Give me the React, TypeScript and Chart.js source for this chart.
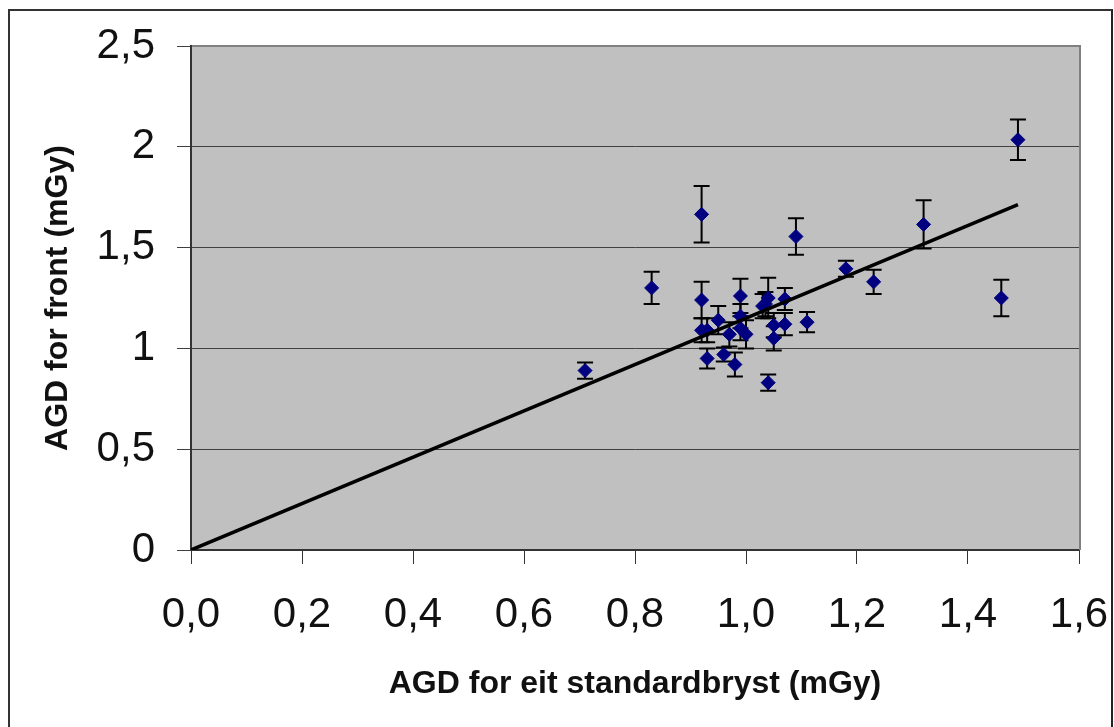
import { useEffect, useRef } from "react";
import { Chart, registerables } from "chart.js";

Chart.register(...registerables);

// Measurements: AGD for standard breast (x) vs AGD for front (y), mGy
const xValues = [
  0.71, 0.83, 0.92, 0.92, 0.92, 0.93, 0.93, 0.95, 0.96, 0.97,
  0.98, 0.99, 0.99, 0.99, 1.0, 1.03, 1.035, 1.04, 1.04, 1.05,
  1.05, 1.07, 1.07, 1.09, 1.11, 1.18, 1.23, 1.32, 1.46, 1.49,
];
const yValues = [
  0.89, 1.3, 1.665, 1.24, 1.09, 1.09, 0.95, 1.14, 0.97, 1.07,
  0.92, 1.26, 1.16, 1.1, 1.07, 1.21, 1.22, 1.25, 0.83, 1.115,
  1.05, 1.245, 1.12, 1.555, 1.13, 1.395, 1.33, 1.615, 1.25, 2.035,
];
const yErrors = [
  0.04, 0.08, 0.14, 0.09, 0.06, 0.06, 0.05, 0.07, 0.035, 0.06,
  0.06, 0.085, 0.06, 0.06, 0.07, 0.06, 0.06, 0.1, 0.04, 0.06,
  0.06, 0.055, 0.055, 0.09, 0.05, 0.04, 0.06, 0.12, 0.09, 0.1,
];
// Linear trend through the origin
const trendSlope = 1.15;

const xTickLabels = ["0,0", "0,2", "0,4", "0,6", "0,8", "1,0", "1,2", "1,4", "1,6"];
const yTickLabels = ["0", "0,5", "1", "1,5", "2", "2,5"];

const xTitle = "AGD for eit standardbryst (mGy)";
const yTitle = "AGD for front (mGy)";

const FONT = "'Liberation Sans', Arial, Helvetica, sans-serif";

const plotBackground = {
  id: "plotBackground",
  beforeDraw(chart: any) {
    const { ctx, chartArea } = chart;
    ctx.save();
    ctx.fillStyle = "#c0c0c0";
    ctx.fillRect(chartArea.left, chartArea.top, chartArea.right - chartArea.left, chartArea.bottom - chartArea.top);
    ctx.restore();
  },
  afterDraw(chart: any) {
    const { ctx, chartArea } = chart;
    ctx.save();
    ctx.strokeStyle = "#808080";
    ctx.lineWidth = 2;
    ctx.beginPath();
    ctx.moveTo(chartArea.left + 1, chartArea.top);
    ctx.lineTo(chartArea.right + 1, chartArea.top);
    ctx.lineTo(chartArea.right + 1, chartArea.bottom);
    ctx.stroke();
    ctx.restore();
  },
};

const errorBars = {
  id: "errorBars",
  beforeDatasetsDraw(chart: any) {
    const { ctx } = chart;
    const xs = chart.scales.x;
    const ys = chart.scales.y;
    ctx.save();
    ctx.strokeStyle = "#000000";
    ctx.lineWidth = 2;
    const cap = 8;
    xValues.forEach((xv, i) => {
      const px = xs.getPixelForValue(xv);
      const top = ys.getPixelForValue(yValues[i] + yErrors[i]);
      const bot = ys.getPixelForValue(yValues[i] - yErrors[i]);
      ctx.beginPath();
      ctx.moveTo(px, top);
      ctx.lineTo(px, bot);
      ctx.moveTo(px - cap, top);
      ctx.lineTo(px + cap, top);
      ctx.moveTo(px - cap, bot);
      ctx.lineTo(px + cap, bot);
      ctx.stroke();
    });
    ctx.restore();
  },
};

export default function App() {
  const canvasRef = useRef<HTMLCanvasElement | null>(null);

  useEffect(() => {
    if (!canvasRef.current) return;
    const points = xValues.map((x, i) => ({ x, y: yValues[i] }));
    const xMax = Math.max(...xValues);
    const trend = [
      { x: 0, y: 0 },
      { x: xMax, y: xMax * trendSlope },
    ];
    const chart = new Chart(canvasRef.current, {
      type: "scatter",
      data: {
        datasets: [
          {
            label: "trend",
            data: trend,
            showLine: true,
            borderColor: "#000000",
            borderWidth: 3.5,
            pointRadius: 0,
            fill: false,
          } as any,
          {
            label: "AGD",
            data: points,
            pointStyle: "rectRot",
            pointRadius: 7,
            pointBackgroundColor: "#000080",
            pointBorderColor: "#000080",
            pointBorderWidth: 1,
            showLine: false,
          } as any,
        ],
      },
      options: {
        responsive: false,
        animation: false,
        devicePixelRatio: 1,
        layout: { padding: { top: 46, right: 35, left: 0, bottom: 0 } },
        plugins: {
          legend: { display: false },
          tooltip: { enabled: false },
        },
        scales: {
          x: {
            type: "linear",
            min: 0,
            max: 1.6,
            afterFit(scale: any) {
              scale.height = 177;
              scale.paddingLeft = 0;
              scale.paddingRight = 0;
            },
            ticks: {
              stepSize: 0.2,
              padding: 26,
              color: "#111111",
              font: { family: FONT, size: 42 },
              callback: (v: any) => xTickLabels[Math.round(Number(v) / 0.2)] ?? "",
            },
            grid: {
              drawOnChartArea: false,
              drawTicks: true,
              tickLength: 14,
              color: "#333333",
              lineWidth: 1,
            },
            border: { display: true, color: "#333333", width: 2 },
            title: {
              display: true,
              text: xTitle,
              color: "#111111",
              font: { family: FONT, size: 32, weight: "bold" },
              padding: { top: 0, bottom: 24 },
            },
          },
          y: {
            type: "linear",
            min: 0,
            max: 2.5,
            afterFit(scale: any) {
              scale.width = 191;
              scale.paddingTop = 0;
              scale.paddingBottom = 0;
            },
            ticks: {
              stepSize: 0.5,
              padding: 22,
              color: "#111111",
              font: { family: FONT, size: 42 },
              callback: (v: any) => yTickLabels[Math.round(Number(v) / 0.5)] ?? "",
            },
            grid: {
              drawOnChartArea: true,
              drawTicks: true,
              tickLength: 14,
              color: "#404040",
              lineWidth: 1,
            },
            border: { display: true, color: "#333333", width: 2 },
            title: {
              display: true,
              text: yTitle,
              color: "#111111",
              font: { family: FONT, size: 32, weight: "bold" },
              padding: { top: 39, bottom: 0 },
            },
          },
        },
      },
      plugins: [plotBackground, errorBars],
    });
    return () => chart.destroy();
  }, []);

  return (
    <div style={{ position: "fixed", left: 0, top: 0, width: 1114, height: 727, overflow: "hidden", background: "#ffffff" }}>
      <div
        style={{
          position: "absolute",
          left: 8,
          top: 9,
          width: 1105,
          height: 800,
          boxSizing: "border-box",
          borderTop: "2px solid #333333",
          borderLeft: "2px solid #333333",
          borderRight: "2px solid #222222",
        }}
      />
      <canvas
        ref={canvasRef}
        width={1114}
        height={727}
        style={{ position: "absolute", left: 0, top: 0, width: 1114, height: 727 }}
      />
    </div>
  );
}
